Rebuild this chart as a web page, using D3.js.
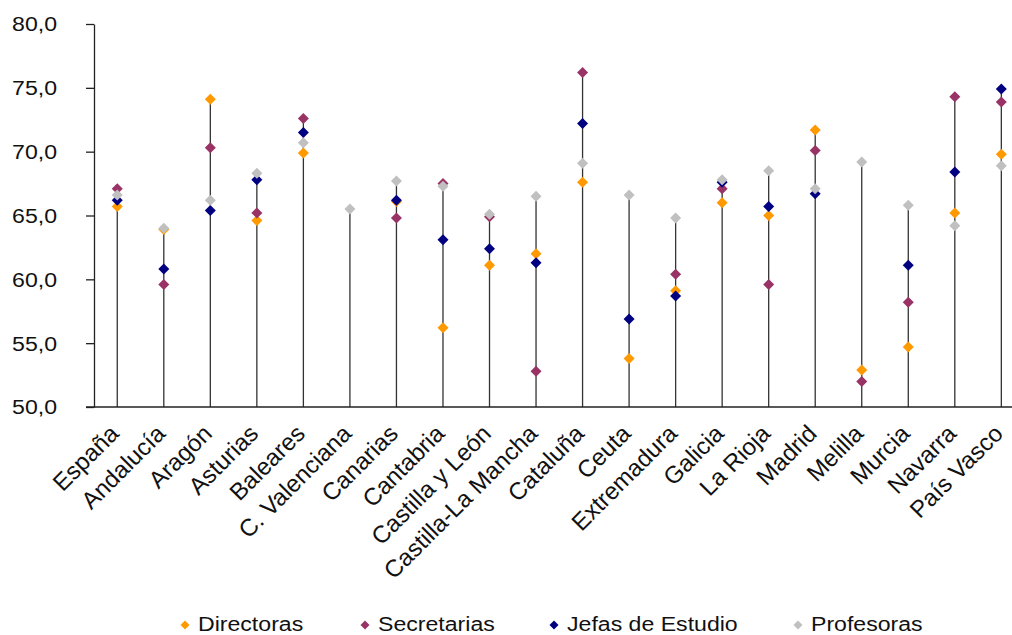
<!DOCTYPE html>
<html>
<head>
<meta charset="utf-8">
<script src="https://cdn.jsdelivr.net/npm/d3@7/dist/d3.min.js"></script>
<style>
  html, body { margin: 0; padding: 0; background: #fff; }
  svg { display: block; font-family: "Liberation Sans", Arial, sans-serif; }
</style>
</head>
<body>
<svg id="chart" width="1012" height="635"></svg>
<script>
const categories = ["España","Andalucía","Aragón","Asturias","Baleares","C. Valenciana","Canarias","Cantabria","Castilla y León","Castilla-La Mancha","Cataluña","Ceuta","Extremadura","Galicia","La Rioja","Madrid","Melilla","Murcia","Navarra","País Vasco"];
const directoras   = [65.7, 63.9, 74.1, 64.6, 69.9, null, 66.1, 56.2, 61.1, 62.0, 67.6, 53.8, 59.1, 66.0, 65.0, 71.7, 52.9, 54.7, 65.2, 69.8];
const secretarias  = [67.1, 59.6, 70.3, 65.2, 72.6, null, 64.8, 67.5, 64.9, 52.8, 76.2, null, 60.4, 67.1, 59.6, 70.1, 52.0, 58.2, 74.3, 73.9];
const jefas        = [66.2, 60.8, 65.4, 67.8, 71.5, null, 66.2, 63.1, 62.4, 61.3, 72.2, 56.9, 58.7, 67.6, 65.7, 66.7, null, 61.1, 68.4, 74.9];
const profesoras   = [66.6, 64.0, 66.2, 68.3, 70.7, 65.5, 67.7, 67.3, 65.1, 66.5, 69.1, 66.6, 64.8, 67.8, 68.5, 67.1, 69.2, 65.8, 64.2, 68.9];
const seriesNames  = ["Directoras","Secretarias","Jefas de Estudio","Profesoras"];
const seriesColors = ["#FF9900","#993366","#000080","#C0C0C0"];
const yTicks = [50, 55, 60, 65, 70, 75, 80];

const seriesData = [directoras, secretarias, jefas, profesoras];

const svg = d3.select("#chart");
const plotLeft = 94, plotTop = 24, plotBottom = 407, step = 46.53;
const sx = 1.1;
const x = d3.scalePoint().domain(categories).range([plotLeft + step/2, plotLeft + step*(categories.length - 0.5)]);
const y = d3.scaleLinear().domain([50, 80]).range([plotBottom, plotTop]);
const fmt = v => d3.format(".1f")(v).replace(".", ",");

// y axis
const yAxis = svg.append("g").attr("transform", `translate(${plotLeft},0)`)
  .call(d3.axisLeft(y).tickValues(yTicks).tickSize(8).tickSizeOuter(0).tickFormat(fmt));
yAxis.select(".domain").attr("stroke", "#222").attr("stroke-width", 1.3);
yAxis.selectAll(".tick line").attr("stroke", "#222").attr("stroke-width", 1.3);
yAxis.selectAll(".tick text")
  .attr("x", -37 / sx).attr("dy", "0.33em")
  .attr("transform", `scale(${sx},1)`)
  .attr("font-size", 21).attr("fill", "#111")
  .attr("font-family", "Liberation Sans, Arial, sans-serif");

// drop lines (from highest point down to axis)
categories.forEach((c, i) => {
  const vals = seriesData.map(s => s[i]).filter(v => v != null);
  const mx = d3.max(vals);
  svg.append("line")
    .attr("x1", x(c)).attr("x2", x(c))
    .attr("y1", y(mx)).attr("y2", y(50))
    .attr("stroke", "#333").attr("stroke-width", 1.3);
});

// x axis line
svg.append("line").attr("x1", plotLeft - 8).attr("x2", 1012).attr("y1", plotBottom).attr("y2", plotBottom)
  .attr("stroke", "#222").attr("stroke-width", 1.5);

// markers
const diamond = r => `M0,${-r}L${r},0L0,${r}L${-r},0Z`;
seriesData.forEach((s, si) => {
  svg.append("g").selectAll("path")
    .data(categories.map((c, i) => ({c, v: s[i]})).filter(d => d.v != null))
    .join("path")
    .attr("d", diamond(5.5))
    .attr("transform", d => `translate(${x(d.c)},${y(d.v)})`)
    .attr("fill", seriesColors[si]);
});

// x labels
svg.append("g").selectAll("text").data(categories).join("text")
  .attr("transform", c => `translate(${x(c) + 3},${435}) rotate(-45)`)
  .attr("text-anchor", "end")
  .attr("font-size", 24)
  .attr("fill", "#111")
  .text(c => c);

// legend
const legendX = [185, 365, 554, 798];
seriesNames.forEach((n, i) => {
  svg.append("path").attr("d", diamond(4.5))
    .attr("transform", `translate(${legendX[i]},${625})`).attr("fill", seriesColors[i]);
  svg.append("text").attr("transform", `translate(${legendX[i] + 13},631) scale(${sx},1)`)
    .attr("font-size", 21).attr("fill", "#111").text(n);
});
</script>
</body>
</html>
